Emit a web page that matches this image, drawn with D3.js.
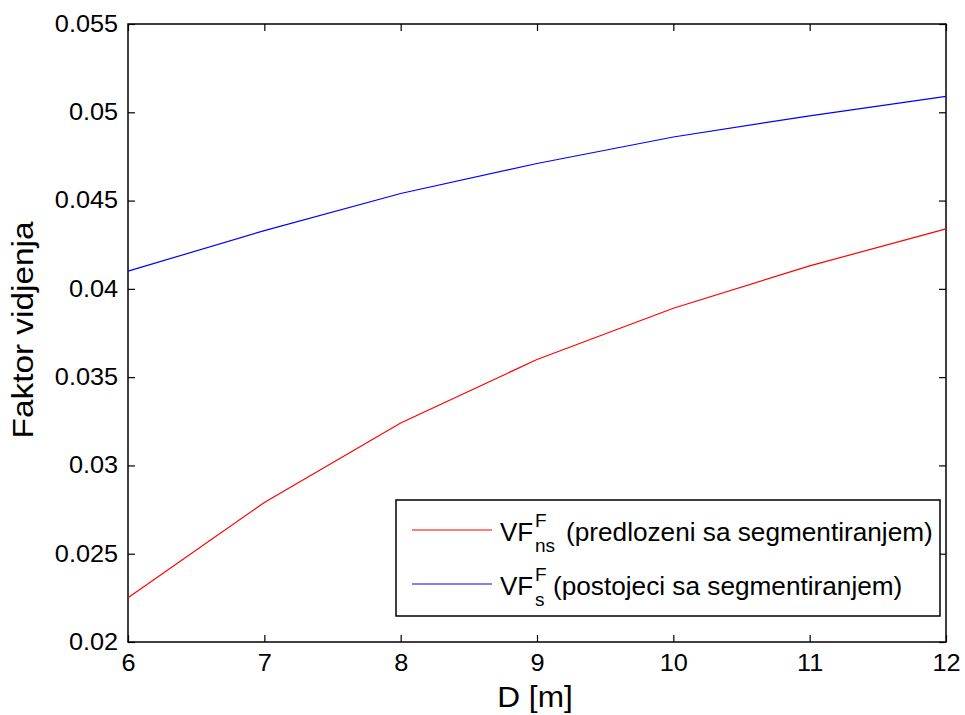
<!DOCTYPE html>
<html>
<head>
<meta charset="utf-8">
<script src="https://cdn.jsdelivr.net/npm/d3@7"></script>
<style>
  html, body { margin: 0; padding: 0; background: #fff; }
  svg { display: block; }
  text { font-family: "Liberation Sans", Arial, Helvetica, sans-serif; fill: #000; }
</style>
</head>
<body>
<script>
// ---- data ----
const distances = [6, 7, 8, 9, 10, 11, 12];
const vfNs = [0.0225, 0.0279, 0.0324, 0.0360, 0.0389, 0.0413, 0.0434];
const vfS  = [0.0410, 0.0433, 0.0454, 0.0471, 0.0486, 0.0498, 0.0509];
const xTickValues = [6, 7, 8, 9, 10, 11, 12];
const xTickLabels = ["6", "7", "8", "9", "10", "11", "12"];
const yTickValues = [0.02, 0.025, 0.03, 0.035, 0.04, 0.045, 0.05, 0.055];
const yTickLabels = ["0.02", "0.025", "0.03", "0.035", "0.04", "0.045", "0.05", "0.055"];
const seriesNames = ["(predlozeni sa segmentiranjem)", "(postojeci sa segmentiranjem)"];
const seriesSubs = ["ns", "s"];
const seriesColors = ["#ff0000", "#0000ff"];
const xLabel = "D [m]";
const yLabel = "Faktor vidjenja";

// ---- layout ----
const W = 965, H = 715;
const L = 128, R = 946, T = 24, B = 642;

const svg = d3.select("body").append("svg").attr("width", W).attr("height", H);

const x = d3.scaleLinear().domain([6, 12]).range([L, R]);
const y = d3.scaleLinear().domain([0.02, 0.055]).range([B, T]);

const tickFont = 23;

// bottom axis
const gxB = svg.append("g").attr("transform", `translate(0,${B})`)
  .call(d3.axisBottom(x).tickValues(xTickValues)
    .tickFormat((d, i) => xTickLabels[i]).tickSizeInner(-7).tickSizeOuter(0).tickPadding(13));
// top axis
const gxT = svg.append("g").attr("transform", `translate(0,${T})`)
  .call(d3.axisTop(x).tickValues(xTickValues).tickFormat("").tickSizeInner(-7).tickSizeOuter(0));
// left axis
const gyL = svg.append("g").attr("transform", `translate(${L},0)`)
  .call(d3.axisLeft(y).tickValues(yTickValues)
    .tickFormat((d, i) => yTickLabels[i]).tickSizeInner(-7).tickSizeOuter(0).tickPadding(9));
// right axis
const gyR = svg.append("g").attr("transform", `translate(${R},0)`)
  .call(d3.axisRight(y).tickValues(yTickValues).tickFormat("").tickSizeInner(-7).tickSizeOuter(0));

[gxB, gxT, gyL, gyR].forEach(g => {
  g.select(".domain").remove();
  g.selectAll(".tick line").attr("stroke", "#000").attr("stroke-width", 1.2);
  g.selectAll(".tick text").attr("font-size", tickFont)
    .attr("font-family", "Liberation Sans, Arial, sans-serif").attr("fill", "#000")
    .attr("transform", "scale(1.1,1)");
});

// box
svg.append("rect").attr("x", L).attr("y", T).attr("width", R - L).attr("height", B - T)
  .attr("fill", "none").attr("stroke", "#000").attr("stroke-width", 1.5);

// lines
const line = d3.line().x((d, i) => x(distances[i])).y(d => y(d));
[vfNs, vfS].forEach((s, k) => {
  svg.append("path").datum(s).attr("d", line)
    .attr("fill", "none").attr("stroke", seriesColors[k]).attr("stroke-width", 1.2);
});

// axis labels
svg.append("text").attr("transform", "translate(535,707) scale(1.09,1)")
  .attr("text-anchor", "middle").attr("font-size", 29).text(xLabel);
svg.append("text").attr("transform", "translate(33,330) rotate(-90) scale(1.15,1)")
  .attr("text-anchor", "middle").attr("font-size", 29).text(yLabel);

// legend
const lg = svg.append("g");
lg.append("rect").attr("x", 396).attr("y", 500).attr("width", 544).attr("height", 116)
  .attr("fill", "#fff").attr("stroke", "#000").attr("stroke-width", 1.5);
const rowY = [530, 584];
seriesNames.forEach((name, k) => {
  const yy = rowY[k];
  lg.append("line").attr("x1", 412).attr("x2", 492).attr("y1", yy).attr("y2", yy)
    .attr("stroke", seriesColors[k]).attr("stroke-width", 1.2);
  const base = yy + 11;
  lg.append("text").attr("x", 500).attr("y", base).attr("font-size", 26).text("VF");
  lg.append("text").attr("x", 535).attr("y", base - 14).attr("font-size", 19).text("F");
  lg.append("text").attr("x", 535).attr("y", base + 11).attr("font-size", 19).text(seriesSubs[k]);
  lg.append("text").attr("x", k === 0 ? 566 : 553).attr("y", base).attr("font-size", 26.2).text(name);
});
</script>
</body>
</html>
